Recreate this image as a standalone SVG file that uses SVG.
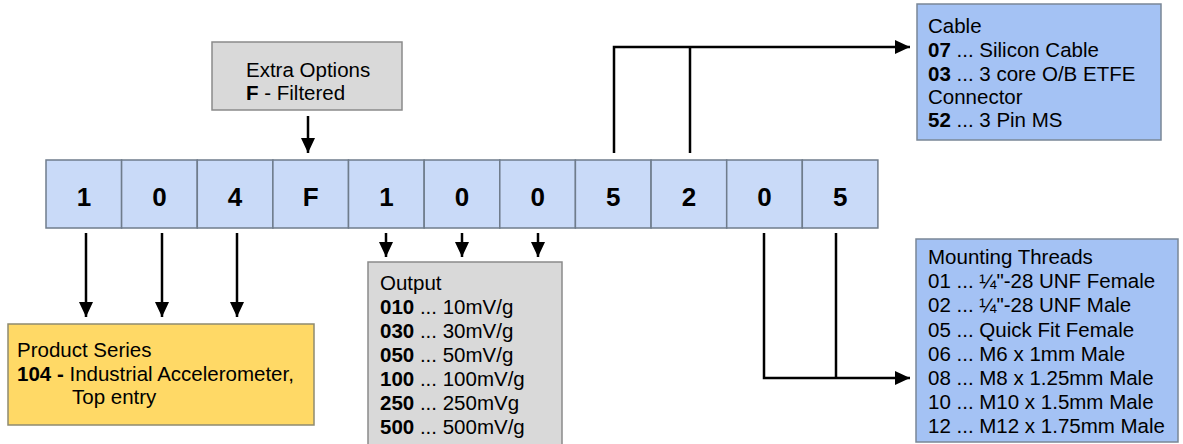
<svg xmlns="http://www.w3.org/2000/svg" width="1183" height="444" viewBox="0 0 1183 444">
<defs>
<marker id="ah" markerUnits="userSpaceOnUse" markerWidth="16" markerHeight="14" refX="15" refY="7" orient="auto">
<path d="M0,0 L15,7 L0,14 z" fill="#000"/>
</marker>
<style>
text{font-family:"Liberation Sans",Arial,sans-serif;fill:#000}
.cell{fill:#c9daf8;stroke:#6f7c8c;stroke-width:1.5}
.dig{font-size:26px;font-weight:bold;text-anchor:middle}
.lbl{font-size:20.5px}
.b{font-weight:bold}
.blue{fill:#a4c2f4;stroke:#7a8796;stroke-width:1.5}
.gray{fill:#d9d9d9;stroke:#8a8a8a;stroke-width:1.5}
.yel{fill:#ffd966;stroke:#8f8a70;stroke-width:1.5}
.con{fill:none;stroke:#000;stroke-width:2.5}
</style>
</defs>
<rect width="1183" height="444" fill="#fff"/>
<g id="code-row">
<rect class="cell" x="46" y="160" width="75.6" height="68"/>
<rect class="cell" x="121.6" y="160" width="75.6" height="68"/>
<rect class="cell" x="197.3" y="160" width="75.6" height="68"/>
<rect class="cell" x="272.9" y="160" width="75.6" height="68"/>
<rect class="cell" x="348.5" y="160" width="75.6" height="68"/>
<rect class="cell" x="424.2" y="160" width="75.6" height="68"/>
<rect class="cell" x="499.8" y="160" width="75.6" height="68"/>
<rect class="cell" x="575.4" y="160" width="75.6" height="68"/>
<rect class="cell" x="651.1" y="160" width="75.6" height="68"/>
<rect class="cell" x="726.7" y="160" width="75.6" height="68"/>
<rect class="cell" x="802.3" y="160" width="75.6" height="68"/>
<text class="dig" x="84" y="206">1</text>
<text class="dig" x="159.5" y="206">0</text>
<text class="dig" x="235" y="206">4</text>
<text class="dig" x="310.7" y="206">F</text>
<text class="dig" x="386.4" y="206">1</text>
<text class="dig" x="462" y="206">0</text>
<text class="dig" x="537.7" y="206">0</text>
<text class="dig" x="613.3" y="206">5</text>
<text class="dig" x="689" y="206">2</text>
<text class="dig" x="764.6" y="206">0</text>
<text class="dig" x="840.3" y="206">5</text>
</g>
<g id="extra-options">
<rect class="gray" x="212" y="42" width="190" height="68"/>
<text class="lbl" x="246" y="77">Extra Options</text>
<text class="lbl" x="246" y="100"><tspan class="b">F</tspan> - Filtered</text>
</g>
<g id="cable">
<rect class="blue" x="917" y="4" width="244" height="136"/>
<text class="lbl" x="928" y="33">Cable</text>
<text class="lbl" x="928" y="57"><tspan class="b">07</tspan> ... Silicon Cable</text>
<text class="lbl" x="928" y="81"><tspan class="b">03</tspan> ... 3 core O/B ETFE</text>
<text class="lbl" x="928" y="104">Connector</text>
<text class="lbl" x="928" y="127"><tspan class="b">52</tspan> ... 3 Pin MS</text>
</g>
<g id="product-series">
<rect class="yel" x="8" y="324" width="306" height="101"/>
<text class="lbl" x="17" y="357">Product Series</text>
<text class="lbl" x="17" y="381"><tspan class="b">104 -</tspan> Industrial Accelerometer,</text>
<text class="lbl" x="72" y="404">Top entry</text>
</g>
<g id="output">
<rect class="gray" x="368" y="262" width="194" height="190"/>
<text class="lbl" x="380" y="290">Output</text>
<text class="lbl" x="380" y="314"><tspan class="b">010</tspan> ... 10mV/g</text>
<text class="lbl" x="380" y="338"><tspan class="b">030</tspan> ... 30mV/g</text>
<text class="lbl" x="380" y="362"><tspan class="b">050</tspan> ... 50mV/g</text>
<text class="lbl" x="380" y="386"><tspan class="b">100</tspan> ... 100mV/g</text>
<text class="lbl" x="380" y="410"><tspan class="b">250</tspan> ... 250mVg</text>
<text class="lbl" x="380" y="434"><tspan class="b">500</tspan> ... 500mV/g</text>
</g>
<g id="mounting-threads">
<rect class="blue" x="916" y="239" width="262" height="203"/>
<text class="lbl" x="928" y="264">Mounting Threads</text>
<text class="lbl" x="928" y="288">01 ... ¼"-28 UNF Female</text>
<text class="lbl" x="928" y="312">02 ... ¼"-28 UNF Male</text>
<text class="lbl" x="928" y="337">05 ... Quick Fit Female</text>
<text class="lbl" x="928" y="361">06 ... M6 x 1mm Male</text>
<text class="lbl" x="928" y="385">08 ... M8 x 1.25mm Male</text>
<text class="lbl" x="928" y="409">10 ... M10 x 1.5mm Male</text>
<text class="lbl" x="928" y="433">12 ... M12 x 1.75mm Male</text>
</g>
<g id="connectors">
<path class="con" d="M308,116 V153" marker-end="url(#ah)"/>
<path class="con" d="M86,233 V317" marker-end="url(#ah)"/>
<path class="con" d="M162,233 V317" marker-end="url(#ah)"/>
<path class="con" d="M237,233 V317" marker-end="url(#ah)"/>
<path class="con" d="M386,233 V257" marker-end="url(#ah)"/>
<path class="con" d="M462,233 V257" marker-end="url(#ah)"/>
<path class="con" d="M538,233 V257" marker-end="url(#ah)"/>
<path class="con" d="M614,153 V47 H910" marker-end="url(#ah)"/>
<path class="con" d="M690,153 V47"/>
<path class="con" d="M764,233 V378 H910" marker-end="url(#ah)"/>
<path class="con" d="M836,233 V378"/>
</g>
</svg>
